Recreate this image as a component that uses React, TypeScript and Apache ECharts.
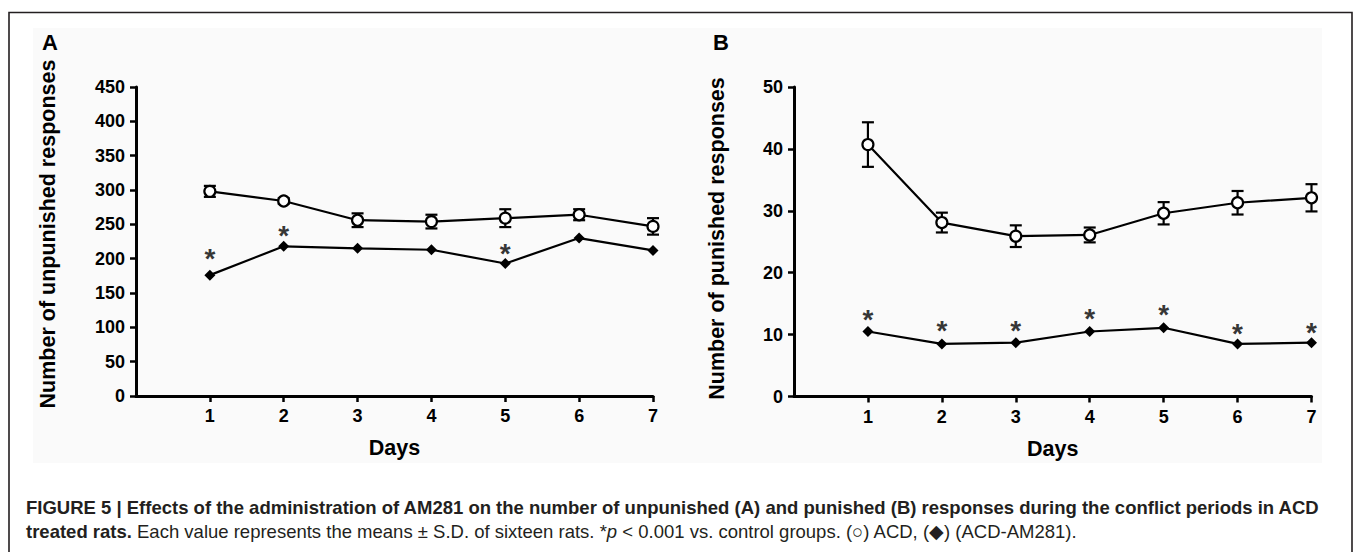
import React, { useEffect, useRef } from "react";
import * as echarts from "echarts";

const days = [1, 2, 3, 4, 5, 6, 7];
const dayTicks = [1, 2, 3, 4, 5, 6, 7];

// Panel A: unpunished responses
const acdA = [298, 284, 256, 254, 259, 264, 247];
const acdSdA = [8, 4, 10, 10, 13, 8, 12];
const am281A = [176, 218, 215, 213, 193, 230, 212];
const starA: (number | null)[] = [209.5, 243, null, null, 216.5, null, null];

// Panel B: punished responses
const acdB = [40.7, 28.1, 25.9, 26.1, 29.6, 31.3, 32.1];
const acdSdB = [3.6, 1.6, 1.75, 1.2, 1.8, 1.9, 2.2];
const am281B = [10.5, 8.5, 8.7, 10.5, 11.1, 8.5, 8.7];
const starB: (number | null)[] = [13.5, 11.75, 11.75, 13.7, 14.3, 11.3, 11.4];

const yTitleA = "Number of unpunished responses";
const yTitleB = "Number of punished responses";
const xTitle = "Days";
const captionLine1 =
  "FIGURE 5 | Effects of the administration of AM281 on the number of unpunished (A) and punished (B) responses during the conflict periods in ACD";
const captionLine2Bold = "treated rats.";
const captionLine2 =
  " Each value represents the means \u00b1 S.D. of sixteen rats. *";
const captionLine2b = " < 0.001 vs. control groups. (\u25cb) ACD, (\u25c6) (ACD-AM281).";

const FONT = "'Liberation Sans', Arial, Helvetica, sans-serif";
const INK = "#000";
const CAP = "#231f20";

function errorSeries(idx: number, mean: number[], sd: number[]) {
  return {
    type: "custom",
    xAxisIndex: idx,
    yAxisIndex: idx,
    z: 1,
    encode: { x: 0, y: [1, 2] },
    data: days.map((d, i) => [d, mean[i] - sd[i], mean[i] + sd[i]]),
    renderItem: (params: any, api: any) => {
      const x = api.value(0);
      const lo = api.coord([x, api.value(1)]);
      const hi = api.coord([x, api.value(2)]);
      const w = 6;
      const st = { stroke: INK, lineWidth: 2.2 };
      return {
        type: "group",
        children: [
          { type: "line", shape: { x1: hi[0], y1: hi[1], x2: lo[0], y2: lo[1] }, style: st },
          { type: "line", shape: { x1: hi[0] - w, y1: hi[1], x2: hi[0] + w, y2: hi[1] }, style: st },
          { type: "line", shape: { x1: lo[0] - w, y1: lo[1], x2: lo[0] + w, y2: lo[1] }, style: st },
        ],
      };
    },
  };
}

function lineSeries(idx: number, vals: number[], symbol: string, size: number, fill: string) {
  return {
    type: "line",
    xAxisIndex: idx,
    yAxisIndex: idx,
    z: 3,
    symbol,
    symbolSize: size,
    showAllSymbol: true,
    lineStyle: { color: INK, width: 2.2 },
    itemStyle: { color: fill, borderColor: INK, borderWidth: symbol === "circle" ? 2.2 : 0 },
    data: days.map((d, i) => [d, vals[i]]),
  };
}

function starSeries(idx: number, stars: (number | null)[]) {
  const pts: number[][] = [];
  stars.forEach((s, i) => {
    if (s != null) pts.push([days[i], s]);
  });
  return {
    type: "scatter",
    xAxisIndex: idx,
    yAxisIndex: idx,
    symbol: "circle",
    symbolSize: 2,
    itemStyle: { color: "rgba(0,0,0,0)" },
    z: 4,
    label: {
      show: true,
      position: "inside",
      formatter: () => "*",
      color: INK,
      fontFamily: FONT,
      fontWeight: "bold",
      fontSize: 28,
      offset: [0, 6.5],
    },
    data: pts,
  };
}

function xAxis(idx: number) {
  return {
    type: "value",
    gridIndex: idx,
    min: 0,
    max: 7,
    interval: 1,
    name: xTitle,
    nameLocation: "middle",
    nameGap: 41,
    nameTextStyle: { fontFamily: FONT, fontWeight: "bold", fontSize: 21.5, color: INK },
    splitLine: { show: false },
    axisLine: { lineStyle: { color: INK, width: 3 } },
    axisTick: { customValues: dayTicks, length: 6, lineStyle: { color: INK, width: 2.5 } },
    axisLabel: {
      customValues: dayTicks,
      margin: 11,
      fontFamily: FONT,
      fontWeight: "bold",
      fontSize: 18,
      color: INK,
    },
  };
}

function yAxis(idx: number, max: number, interval: number) {
  return {
    type: "value",
    gridIndex: idx,
    min: 0,
    max,
    interval,
    splitLine: { show: false },
    axisLine: { show: true, lineStyle: { color: INK, width: 3 } },
    axisTick: { show: true, length: 6, lineStyle: { color: INK, width: 2.5 } },
    axisLabel: { margin: 11, fontFamily: FONT, fontWeight: "bold", fontSize: 18, color: INK },
  };
}

export default function App() {
  const ref = useRef<HTMLDivElement>(null);
  useEffect(() => {
    if (!ref.current) return;
    const chart = echarts.init(ref.current, undefined, { renderer: "svg" });
    chart.setOption({
      animation: false,
      backgroundColor: "#ffffff",
      grid: [
        { left: 136, top: 87, width: 517, height: 309 },
        { left: 794, top: 87, width: 517.5, height: 309.5 },
      ],
      xAxis: [xAxis(0), xAxis(1)],
      yAxis: [yAxis(0, 450, 50), yAxis(1, 50, 10)],
      series: [
        errorSeries(0, acdA, acdSdA),
        lineSeries(0, acdA, "circle", 11, "#fff"),
        lineSeries(0, am281A, "diamond", 11, INK),
        starSeries(0, starA),
        errorSeries(1, acdB, acdSdB),
        lineSeries(1, acdB, "circle", 11, "#fff"),
        lineSeries(1, am281B, "diamond", 11, INK),
        starSeries(1, starB),
      ],
      graphic: [
        {
          type: "rect",
          z: -10,
          silent: true,
          shape: { x: 33, y: 28, width: 1289, height: 435 },
          style: { fill: "#fafafa" },
        },
        {
          type: "polyline",
          silent: true,
          shape: { points: [[9, 560], [9, 12.5], [1352, 12.5], [1352, 560]] },
          style: { stroke: CAP, lineWidth: 1.6, fill: "none" },
        },
        {
          type: "text",
          x: 50,
          y: 42,
          style: { text: "A", font: `bold 22px ${FONT}`, fill: INK, align: "center", verticalAlign: "middle" },
        },
        {
          type: "text",
          x: 721,
          y: 42,
          style: { text: "B", font: `bold 22px ${FONT}`, fill: INK, align: "center", verticalAlign: "middle" },
        },
        {
          type: "text",
          x: 48,
          y: 234,
          rotation: Math.PI / 2,
          style: { text: yTitleA, font: `bold 21.5px ${FONT}`, fill: INK, align: "center", verticalAlign: "middle" },
        },
        {
          type: "text",
          x: 717,
          y: 238.5,
          rotation: Math.PI / 2,
          style: { text: yTitleB, font: `bold 21.5px ${FONT}`, fill: INK, align: "center", verticalAlign: "middle" },
        },
        {
          type: "text",
          x: 26,
          y: 507,
          style: {
            text: captionLine1,
            font: `bold 18.5px ${FONT}`,
            fill: CAP,
            align: "left",
            verticalAlign: "middle",
          },
        },
        {
          type: "text",
          x: 26,
          y: 531,
          style: {
            text: `{b|${captionLine2Bold}}{n|${captionLine2}}{i|p}{n|${captionLine2b}}`,
            align: "left",
            verticalAlign: "middle",
            rich: {
              b: { font: `bold 18.5px ${FONT}`, fill: CAP },
              n: { font: `18.5px ${FONT}`, fill: CAP },
              i: { font: `italic 18.5px ${FONT}`, fill: CAP },
            },
          },
        },
      ],
    });
    return () => chart.dispose();
  }, []);
  return (
    <div
      ref={ref}
      style={{ position: "absolute", left: 0, top: 0, width: 1355, height: 552 }}
    />
  );
}
